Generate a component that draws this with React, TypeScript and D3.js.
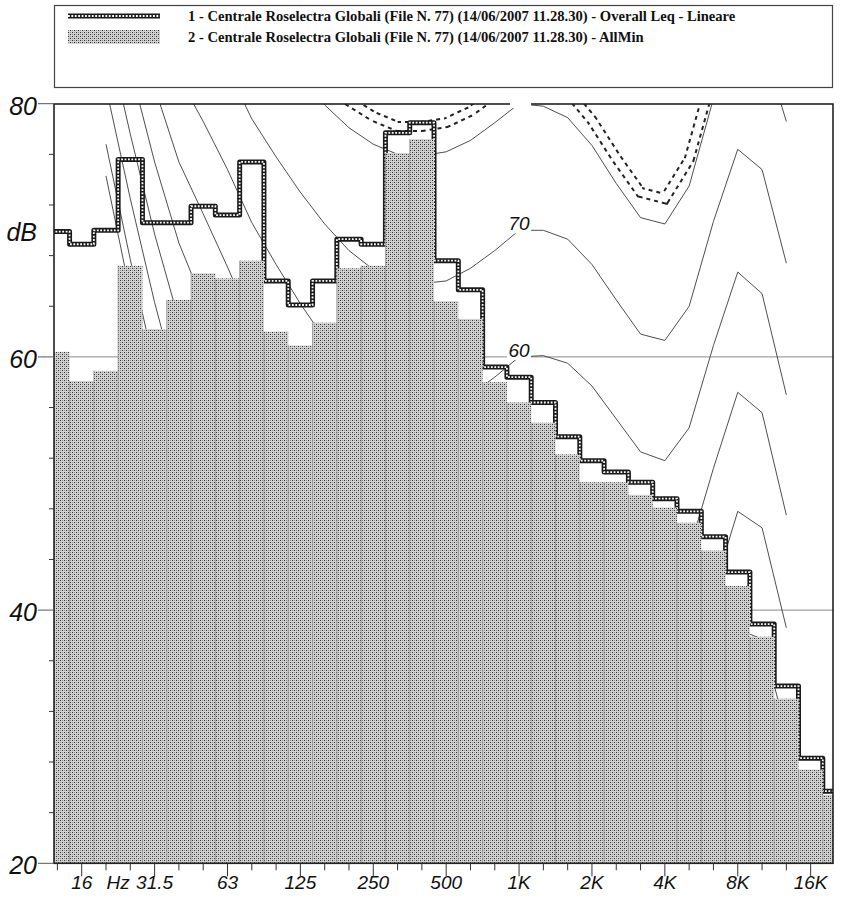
import React from "react";
import * as d3 from "d3";

// ---- data -------------------------------------------------------------
const bandLabels = ["12.5","16","20","25","31.5","40","50","63","80","100","125","160","200","250","315","400","500","630","800","1K","1.25K","1.6K","2K","2.5K","3.15K","4K","5K","6.3K","8K","10K","12.5K","16K","20K"];
const leqValues = [69.9,68.9,70.0,75.6,70.6,70.6,71.9,71.2,75.4,66.0,64.1,66.0,69.3,68.9,77.7,78.5,67.6,65.3,59.2,58.4,56.4,53.7,51.8,50.9,50.1,48.8,47.8,45.8,43.0,38.9,34.0,28.3,25.7];
const allMinValues = [60.4,58.1,58.9,67.2,62.2,64.5,66.6,66.2,67.6,62.0,60.9,62.7,67.0,67.2,76.1,77.2,64.4,63.0,58.0,56.4,54.8,52.3,50.1,50.1,49.1,48.1,46.9,44.7,41.9,37.9,33.0,27.4,25.4];

const axisTickLabels = ["16","31.5","63","125","250","500","1K","2K","4K","8K","16K"];
const yLabelValues = [80,60,40,20];
const yMinorValues = [76,72,68,64,56,52,48,44,36,32,28,24];
const gridValues = [60,40];

// equal-loudness contours, 20 Hz ... 12.5 kHz
const contourBands = ["20","25","31.5","40","50","63","80","100","125","160","200","250","315","400","500","630","800","1K","1.25K","1.6K","2K","2.5K","3.15K","4K","5K","6.3K","8K","10K","12.5K"];
const contourMAF = [74.3,65.0,56.3,48.4,41.7,35.5,29.8,25.1,20.7,16.8,13.8,11.2,8.9,7.2,6.0,5.0,4.4,4.2,3.7,2.6,1.0,-1.2,-3.6,-3.9,-1.1,6.6,15.3,16.4,11.6];
const contour10 = [76.8,67.7,59.2,51.5,45.1,39.2,33.7,29.1,24.8,21.0,18.1,15.6,13.4,11.9,10.9,10.1,9.9,10,9.7,8.7,7.2,5.0,2.6,2.2,4.8,12.2,20.4,21.0,15.5];
const contour20 = [81.3,72.5,64.3,57.1,51.2,45.8,40.5,36.2,32.1,28.5,25.7,23.3,21.4,20.1,19.4,19.1,19.4,20,19.9,19.2,17.7,15.4,13.0,12.5,15.0,22.0,29.4,29.2,22.7];
const contour30 = [86.0,77.6,69.7,62.9,57.6,52.6,47.7,43.5,39.7,36.2,33.5,31.4,29.6,28.6,28.2,28.3,29.0,30,30.1,29.5,28.0,25.7,23.2,22.6,25.0,31.7,38.5,37.7,30.4];
const contour40 = [91.0,82.9,75.4,69.0,64.3,59.7,55.0,51.2,47.5,44.3,41.7,39.7,38.2,37.4,37.3,37.7,38.7,40,40.2,39.6,38.1,35.7,33.1,32.5,34.9,41.5,47.8,46.5,38.6];
const contour50 = [96.2,88.5,81.3,75.4,71.3,67.1,62.7,59.1,55.7,52.7,50.3,48.4,47.1,46.6,46.6,47.2,48.5,50,50.2,49.6,48.0,45.5,42.9,42.3,44.7,51.2,57.2,55.6,47.5];
const contour60 = [101.7,94.4,87.6,82.1,78.6,74.8,70.6,67.3,64.2,61.4,59.2,57.5,56.3,56.0,56.2,57.0,58.4,60,60.1,59.5,57.7,55.1,52.5,51.8,54.4,60.9,66.7,65.0,57.0];
const contour70 = [107.6,100.7,94.3,89.2,86.4,82.8,78.8,75.8,73.0,70.5,68.4,66.9,66.0,65.8,66.0,67.0,68.4,70,70.0,69.3,67.3,64.5,61.8,61.3,64.0,70.7,76.4,74.8,67.4];
const contour80 = [113.7,107.3,101.3,96.6,94.6,91.1,87.4,84.7,82.2,79.9,78.1,76.8,76.0,75.9,76.2,77.1,78.5,80,79.8,78.9,76.7,73.7,71.0,70.5,73.5,80.4,86.3,84.9,78.6];
const contourMeasured = [115.2,108.8,102.9,98.3,96.4,93.0,89.3,86.7,84.3,82.1,80.2,79.0,78.2,78.2,78.5,79.4,80.8,82.2,81.9,81.0,78.7,75.7,73.0,72.5,75.6,82.5,88.5,87.2,81.2];
const contourLabelLevels = ["70","60"];

const legendTexts = [
  "1 - Centrale Roselectra Globali  (File N. 77) (14/06/2007 11.28.30) - Overall Leq - Lineare",
  "2 - Centrale Roselectra Globali  (File N. 77) (14/06/2007 11.28.30) - AllMin",
];

// ---- layout -------------------------------------------------------------
const W = 841, H = 901;
const PL = 54, PR = 833, PT = 104, PB = 863.3;

const pos = (lab: string) => bandLabels.indexOf(lab) - 1; // 16 Hz -> 0
const x = d3.scaleLinear().domain([-1.14, 30.92]).range([PL, PR]);
const y = d3.scaleLinear().domain([20, 80]).range([PB, 103.7]);

const axisFont = "'Liberation Sans', Arial, sans-serif";
const serif = "'Liberation Serif', 'Times New Roman', serif";

export default function App() {
  const leqPts: [number, number][] = [];
  bandLabels.forEach((b, i) => {
    const p = pos(b);
    leqPts.push([x(p - 0.5), y(leqValues[i])]);
    leqPts.push([x(p + 0.5), y(leqValues[i])]);
  });
  const leqPath = d3.line()(leqPts) || "";

  const cLine = d3
    .line<number>()
    .x((_, i) => x(pos(contourBands[i])))
    .y((v) => y(v));
  const contours = [contourMAF, contour10, contour20, contour30, contour40, contour50, contour60, contour70, contour80];
  const measuredPath = cLine(contourMeasured) || "";

  const kx = x(pos("1K"));

  return (
    <svg width={W} height={H} style={{ position: "absolute", left: 0, top: 0, background: "#fff" }}>
      <defs>
        <pattern id="stip" patternUnits="userSpaceOnUse" width={4} height={4}>
          <rect width={4} height={4} fill="#d2d2d2" />
          <rect x={0} y={0} width={1} height={1} fill="#2e2e2e" />
          <rect x={2} y={2} width={1} height={1} fill="#2e2e2e" />
          <rect x={2} y={0} width={1} height={1} fill="#8e8e8e" />
          <rect x={0} y={2} width={1} height={1} fill="#8e8e8e" />
        </pattern>
        <clipPath id="plot">
          <rect x={PL} y={PT} width={PR - PL} height={PB - PT} />
        </clipPath>
      </defs>
      <rect width={W} height={H} fill="#fff" />

      {/* legend */}
      <rect x={54.5} y={5.5} width={778} height={82} fill="none" stroke="#444" strokeWidth={1.2} />
      <line x1={68} x2={160} y1={16} y2={16} stroke="#1a1a1a" strokeWidth={5} />
      <line x1={68} x2={160} y1={16} y2={16} stroke="#fff" strokeWidth={1.8} strokeDasharray="1.8 1.6" />
      <rect x={68} y={30} width={92} height={14} fill="url(#stip)" />
      {legendTexts.map((t, i) => (
        <text key={i} x={188} y={20.5 + i * 21.5} fontFamily={serif} fontWeight="bold" fontSize={14.6} fill="#111">
          {t}
        </text>
      ))}

      <g clipPath="url(#plot)">
        {gridValues.map((g) => (
          <line key={g} x1={PL} x2={PR} y1={y(g)} y2={y(g)} stroke="#8a8a8a" strokeWidth={1} />
        ))}
        {contours.map((c, i) => (
          <path key={i} d={cLine(c) || ""} fill="none" stroke="#3a3a3a" strokeWidth={0.9} />
        ))}
        <path d={measuredPath} fill="none" stroke="#222" strokeWidth={11} strokeDasharray="4 4" />
        <path d={measuredPath} fill="none" stroke="#fff" strokeWidth={7} />
        <path d={leqPath} fill="none" stroke="#1a1a1a" strokeWidth={5} strokeLinejoin="round" />
        <path d={leqPath} fill="none" stroke="#fff" strokeWidth={1.8} strokeDasharray="1.8 1.6" />
        {bandLabels.map((b, i) => (
          <rect
            key={b}
            x={x(pos(b) - 0.5)}
            y={y(allMinValues[i])}
            width={x(pos(b) + 0.5) - x(pos(b) - 0.5)}
            height={y(20) - y(allMinValues[i])}
            fill="url(#stip)"
          />
        ))}
        {bandLabels.map((b, i) => (
          <line
            key={"e" + b}
            x1={x(pos(b) - 0.5)}
            x2={x(pos(b) - 0.5)}
            y1={y(allMinValues[i])}
            y2={y(20)}
            stroke="#8a8a8a"
            strokeWidth={0.7}
          />
        ))}
        {contourLabelLevels.map((l) => (
          <g key={l}>
            <rect x={kx - 12} y={y(+l) - 16} width={24} height={19} fill="#fff" />
            <text x={kx} y={y(+l)} textAnchor="middle" fontFamily={axisFont} fontStyle="italic" fontSize={19} fill="#111">
              {l}
            </text>
          </g>
        ))}
      </g>

      {/* frame */}
      <rect x={PL} y={PT} width={PR - PL} height={PB - PT} fill="none" stroke="#222" strokeWidth={1.6} />
      <rect x={kx - 9} y={98} width={21} height={10} fill="#fff" />

      {/* y axis */}
      {yLabelValues.map((v) => (
        <g key={v}>
          <line x1={38} x2={PL} y1={y(v)} y2={y(v)} stroke="#555" strokeWidth={1} />
          <text x={37} y={y(v) + 2} textAnchor="end" dominantBaseline="central" fontFamily={axisFont} fontStyle="italic" fontSize={25} fill="#111">
            {v}
          </text>
        </g>
      ))}
      {yMinorValues.map((v) => (
        <line key={v} x1={49} x2={PL} y1={y(v)} y2={y(v)} stroke="#333" strokeWidth={1} />
      ))}
      <text x={37} y={y(70) + 2} textAnchor="end" dominantBaseline="central" fontFamily={axisFont} fontStyle="italic" fontSize={25} fill="#111">
        dB
      </text>

      {/* x axis */}
      {bandLabels.slice(0, 32).map((b) => {
        const major = axisTickLabels.includes(b);
        return (
          <line key={b} x1={x(pos(b))} x2={x(pos(b))} y1={PB} y2={PB + (major ? 13 : 7)} stroke="#333" strokeWidth={1} />
        );
      })}
      {axisTickLabels.map((l) => (
        <text key={l} x={x(pos(l))} y={889} textAnchor="middle" fontFamily={axisFont} fontStyle="italic" fontSize={19} fill="#111">
          {l}
        </text>
      ))}
      <text x={x(pos("20") + 0.5)} y={889} textAnchor="middle" fontFamily={axisFont} fontStyle="italic" fontSize={19} fill="#111">
        Hz
      </text>
    </svg>
  );
}
